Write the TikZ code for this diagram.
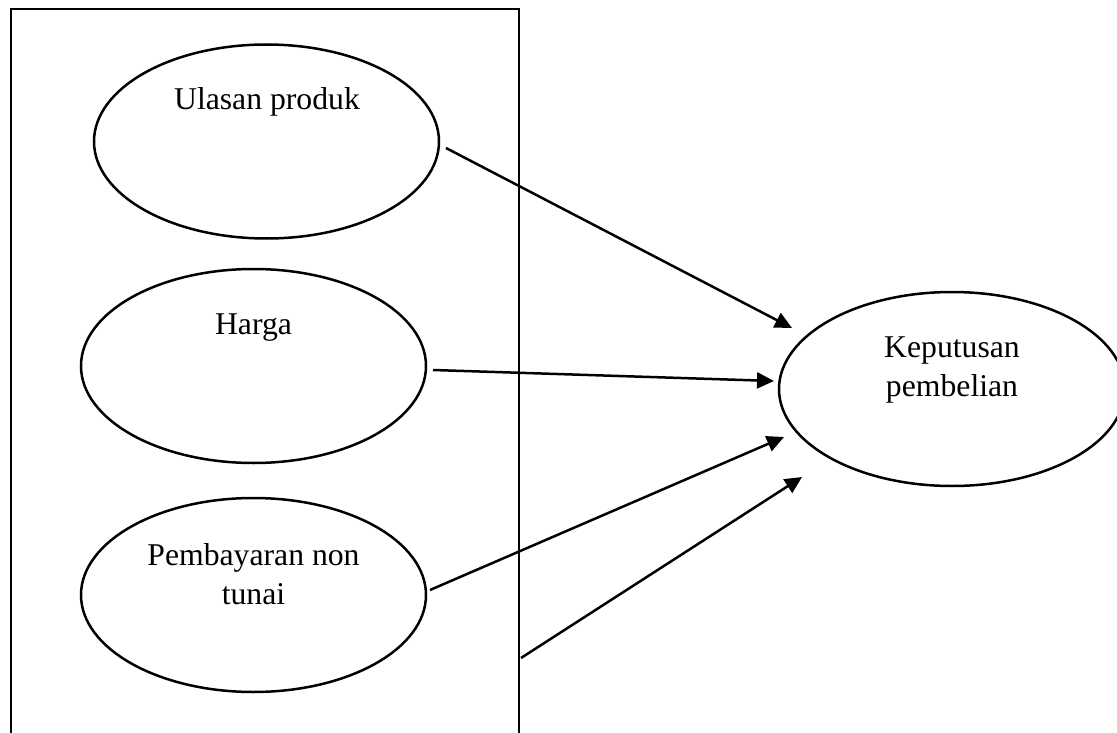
\documentclass[tikz,border=0pt]{standalone}
\usepackage{fontspec}
\setmainfont{Liberation Serif}
\usetikzlibrary{arrows.meta,shapes.geometric,calc}
\begin{document}
\begin{tikzpicture}[x=1pt,y=-1pt,
  ell/.style={draw,ellipse,line width=2.5pt,inner sep=0pt,minimum width=345pt,minimum height=194pt},
  lbl/.style={align=center,anchor=base,inner sep=0pt,font=\fontsize{31.7}{39.5}\selectfont},
  arr/.style={line width=2.5pt,-{Triangle[length=17pt,width=16pt]}}]
\useasboundingbox (0,0) rectangle (1117,733);
% frame (open at the bottom, cut by the page edge)
\draw[line width=2.5pt] (11,745) -- (11,9) -- (519,9) -- (519,745);
% ellipses
\node[ell] (u) at (266.5,141.5) {};
\node[ell] (h) at (253.5,366) {};
\node[ell] (p) at (253.5,595) {};
\node[ell, minimum width=346pt] (k) at (952,389) {};
% labels
\node[lbl] (ut) at ($(u)+(0.5,-31.5)$) {Ulasan produk};
\node[lbl] (ht) at ($(h)+(0,-32)$) {Harga};
\node[lbl] (pt) at ($(p)+(0,9.5)$) {Pembayaran non\\tunai};
\node[lbl] (kt) at ($(k)+(0,7.5)$) {Keputusan\\pembelian};
% connector ends
\coordinate (s1) at ($(u)+(179.5,6.5)$);
\coordinate (s2) at ($(h)+(179.5,4)$);
\coordinate (s3) at ($(p)+(176.5,-5)$);
\coordinate (s4) at (521,658);
\coordinate (t1) at ($(k)+(-160,-61)$);
\coordinate (t2) at ($(k)+(-178,-8)$);
\coordinate (t3) at ($(k)+(-168,48)$);
\coordinate (t4) at ($(k)+(-150,88)$);
\draw[arr] (s1) -- (t1);
\draw[arr] (s2) -- (t2);
\draw[arr] (s3) -- (t3);
\draw[arr] (s4) -- (t4);
\end{tikzpicture}
\end{document}
